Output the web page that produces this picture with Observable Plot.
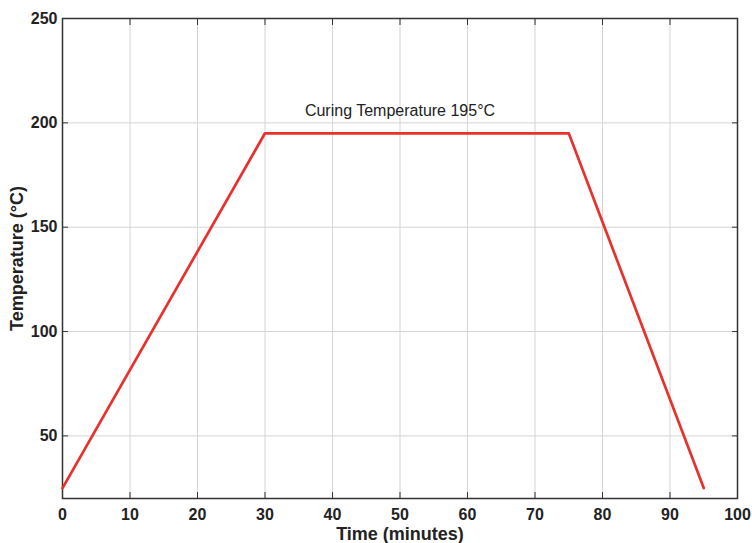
<!DOCTYPE html>
<html>
<head>
<meta charset="utf-8">
<script src="https://cdn.jsdelivr.net/npm/d3@7"></script>
<script src="https://cdn.jsdelivr.net/npm/@observablehq/plot@0.6"></script>
<style>
  html, body { margin: 0; padding: 0; background: #fff; }
</style>
</head>
<body>
<div id="chart"></div>
<script>
const time = [0, 30, 75, 95];
const temperature = [25, 195, 195, 25];
const xTicks = [0, 10, 20, 30, 40, 50, 60, 70, 80, 90, 100];
const yTicks = [50, 100, 150, 200, 250];
const annotationText = ["Curing Temperature 195°C"];
const annotationX = [50];
const annotationY = [195];
const xLabel = "Time (minutes)";
const yLabel = "Temperature (°C)";

const data = time.map((t, i) => ({time: t, temperature: temperature[i]}));
const notes = annotationText.map((t, i) => ({text: t, x: annotationX[i], y: annotationY[i]}));

const axisColor = "#333";
const font = "'Liberation Sans', Arial, sans-serif";

const chart = Plot.plot({
  width: 752,
  height: 543,
  marginLeft: 62,
  marginRight: 15,
  marginTop: 18,
  marginBottom: 45,
  x: {domain: [0, 100]},
  y: {domain: [20, 250]},
  style: {fontFamily: font, fontSize: "16px", fontWeight: "bold", color: "#222", background: "#fff"},
  marks: [
    Plot.gridX(xTicks, {stroke: "#d4d4d4", strokeOpacity: 1, strokeWidth: 1}),
    Plot.gridY(yTicks, {stroke: "#d4d4d4", strokeOpacity: 1, strokeWidth: 1}),
    Plot.axisX(xTicks, {anchor: "bottom", tickSize: -6, tickPadding: 16, label: null, stroke: axisColor, fill: "#222"}),
    Plot.axisX(xTicks, {anchor: "top", tickSize: -6, tickFormat: () => "", label: null, stroke: axisColor}),
    Plot.axisY(yTicks, {anchor: "left", tickSize: -6, tickPadding: 11, label: null, stroke: axisColor, fill: "#222"}),
    Plot.axisY(yTicks, {anchor: "right", tickSize: -6, tickFormat: () => "", label: null, stroke: axisColor}),
    Plot.frame({stroke: axisColor, strokeWidth: 1.5}),
    Plot.line(data, {x: "time", y: "temperature", stroke: "#e8302c", strokeWidth: 2.7}),
    Plot.text(notes, {x: "x", y: "y", text: "text", dy: -22, fontSize: 16, fontWeight: "normal", fill: "#222"}),
    Plot.text([xLabel], {frameAnchor: "bottom", dy: 41, fontSize: 18, fontWeight: "bold", fill: "#222"}),
    Plot.text([yLabel], {frameAnchor: "left", textAnchor: "middle", dx: -45, rotate: -90, fontSize: 18, fontWeight: "bold", fill: "#222"})
  ]
});
document.getElementById("chart").appendChild(chart);
</script>
</body>
</html>
